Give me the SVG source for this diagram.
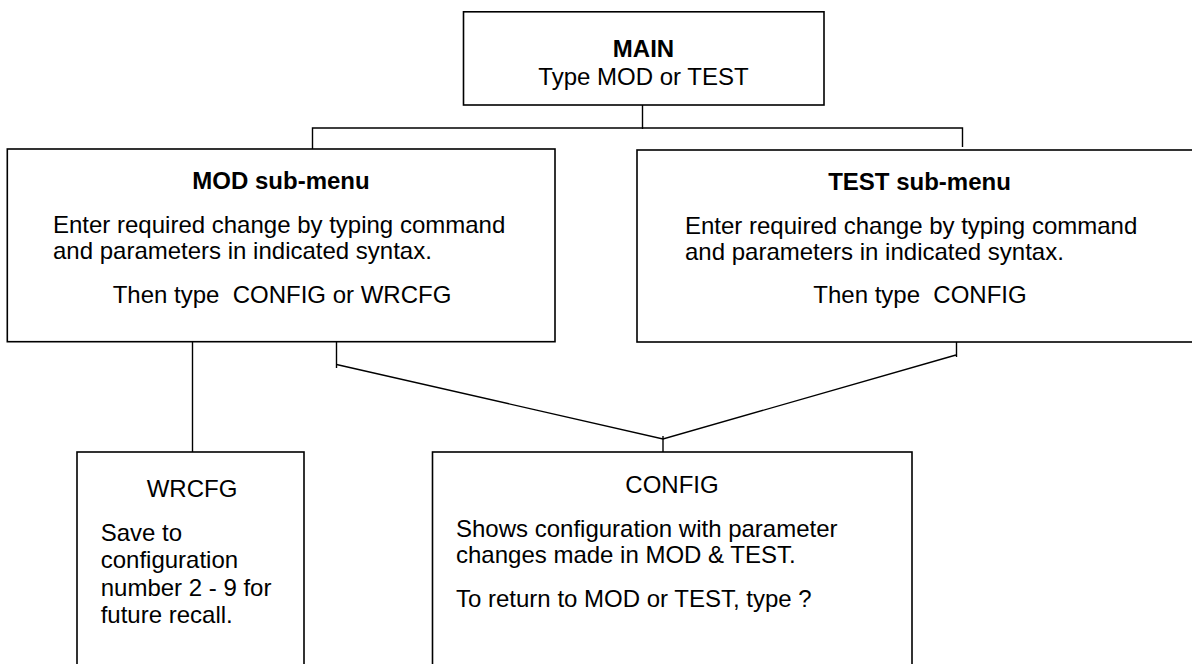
<svg xmlns="http://www.w3.org/2000/svg" width="1192" height="664" viewBox="0 0 1192 664">
  <style>
    .box { fill: #ffffff; stroke: #000000; stroke-width: 1.6; }
    .wire { fill: none; stroke: #000000; stroke-width: 1.4; }
    text { font-family: "Liberation Sans", Arial, sans-serif; font-size: 24px; fill: #000000; }
    .title { font-weight: bold; }
    .mid { text-anchor: middle; }
  </style>
  <rect width="1192" height="664" fill="#ffffff"/>

  <!-- connectors -->
  <g id="connectors">
    <!-- MAIN down to the two sub-menus -->
    <polyline class="wire" points="642.5,102 642.5,129"/>
    <polyline class="wire" points="312.5,149 312.5,128 962.5,128 962.5,147"/>
    <!-- MOD sub-menu to WRCFG -->
    <polyline class="wire" points="192.5,336 192.5,454"/>
    <!-- MOD and TEST sub-menus joining into CONFIG -->
    <polyline class="wire" points="336.5,338 336.5,368"/>
    <polyline class="wire" points="336.5,364.5 663,439 956,355"/>
    <polyline class="wire" points="663,436 663,452"/>
    <polyline class="wire" points="956.5,338 956.5,357"/>
  </g>

  <g id="main">
    <rect class="box" x="463.5" y="11.8" width="360.5" height="93.2"/>
    <text class="title mid" x="643.5" y="57.3">MAIN</text>
    <text class="mid" x="643.5" y="85.3">Type MOD or TEST</text>
  </g>

  <g id="mod-submenu">
    <rect class="box" x="7.3" y="149" width="547.7" height="192.7"/>
    <text class="title mid" x="281" y="189.3">MOD sub-menu</text>
    <text x="53" y="233.3">Enter required change by typing command</text>
    <text x="53" y="259">and parameters in indicated syntax.</text>
    <text class="mid" x="282" y="303.3" xml:space="preserve">Then type  CONFIG or WRCFG</text>
  </g>

  <g id="test-submenu">
    <rect class="box" x="637" y="150" width="570" height="192"/>
    <text class="title mid" x="919.5" y="190">TEST sub-menu</text>
    <text x="685" y="234">Enter required change by typing command</text>
    <text x="685" y="259.5">and parameters in indicated syntax.</text>
    <text class="mid" x="920" y="303.3" xml:space="preserve">Then type  CONFIG</text>
  </g>

  <g id="wrcfg">
    <rect class="box" x="77" y="452" width="227" height="230"/>
    <text class="mid" x="192" y="497.3">WRCFG</text>
    <text x="100.7" y="540.7">Save to</text>
    <text x="100.7" y="568.3">configuration</text>
    <text x="100.7" y="596">number 2 - 9 for</text>
    <text x="100.7" y="623.3">future recall.</text>
  </g>

  <g id="config">
    <rect class="box" x="432.5" y="452" width="479.5" height="230"/>
    <text class="mid" x="672" y="493.3">CONFIG</text>
    <text x="456" y="537.3">Shows configuration with parameter</text>
    <text x="456" y="563.3">changes made in MOD &amp; TEST.</text>
    <text x="456" y="606.7">To return to MOD or TEST, type ?</text>
  </g>
</svg>
